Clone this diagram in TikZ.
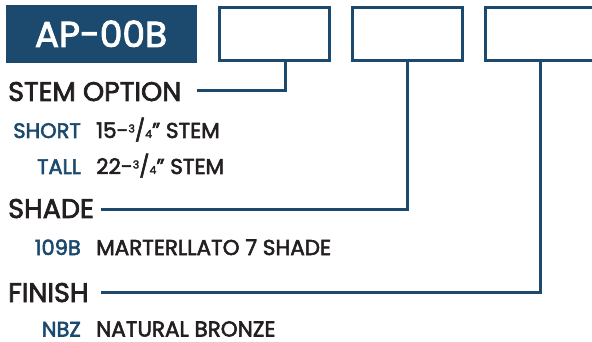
\documentclass[tikz,border=0pt]{standalone}
\usepackage{fontspec}
\setmainfont{Poppins}[FakeBold=2.6]
\definecolor{navy}{HTML}{1B4A6E}
\definecolor{ink}{HTML}{231F20}
\newcommand{\frc}{{\fontsize{11}{11}\selectfont\raisebox{0.5em}{3}}/{\fontsize{11}{11}\selectfont 4}”}
\tikzset{
  head/.style={anchor=base west, inner sep=0pt, text=ink, font=\fontsize{27}{27}\selectfont},
  code/.style={anchor=base east, inner sep=0pt, text=navy, font=\fontsize{21}{21}\selectfont},
  desc/.style={anchor=base west, inner sep=0pt, text=ink, font=\fontsize{21.5}{21.5}\selectfont},
  slot/.style={draw=navy, line width=3pt, fill=white},
  conn/.style={draw=navy, line width=3pt},
}
\begin{document}
\begin{tikzpicture}[x=1pt,y=-1pt]
\useasboundingbox (0,0) rectangle (592,342);
\fill[navy] (6,5) rectangle (197,63);
\node[anchor=base, inner sep=0pt, text=white, font=\fontsize{36}{36}\selectfont] (ap) at (101,47) {AP-00B};
\draw[slot] (219,8) rectangle (329,61);
\draw[slot] (352,8) rectangle (462,61);
\draw[slot] (485,8) rectangle (597,61);
\coordinate (b1) at (285,61);
\coordinate (b2) at (407,61);
\coordinate (b3) at (540,61);
\node[head] (stem) at (8,101) {STEM OPTION};
\node[code] (short) at (81,138) {SHORT};
\node[desc] (shortd) at (96,138) {15-\frc{} STEM};
\node[code] (tall) at (81,174) {TALL};
\node[desc] (talld) at (96,174) {22-\frc{} STEM};
\node[head] (shade) at (8,218) {SHADE};
\node[code] (c109) at (81,255) {109B};
\node[desc] (c109d) at (96,255) {MARTERLLATO 7 SHADE};
\node[head] (finish) at (8,302) {FINISH};
\node[code] (nbz) at (81,336.5) {NBZ};
\node[desc] (nbzd) at (96,336.5) {NATURAL BRONZE};
\coordinate (l1) at (197,91);
\coordinate (l2) at (101,209);
\coordinate (l3) at (101,292);
\draw[conn] (l1) -| (b1);
\draw[conn] (l2) -| (b2);
\draw[conn] (l3) -| (b3);
\end{tikzpicture}
\end{document}
